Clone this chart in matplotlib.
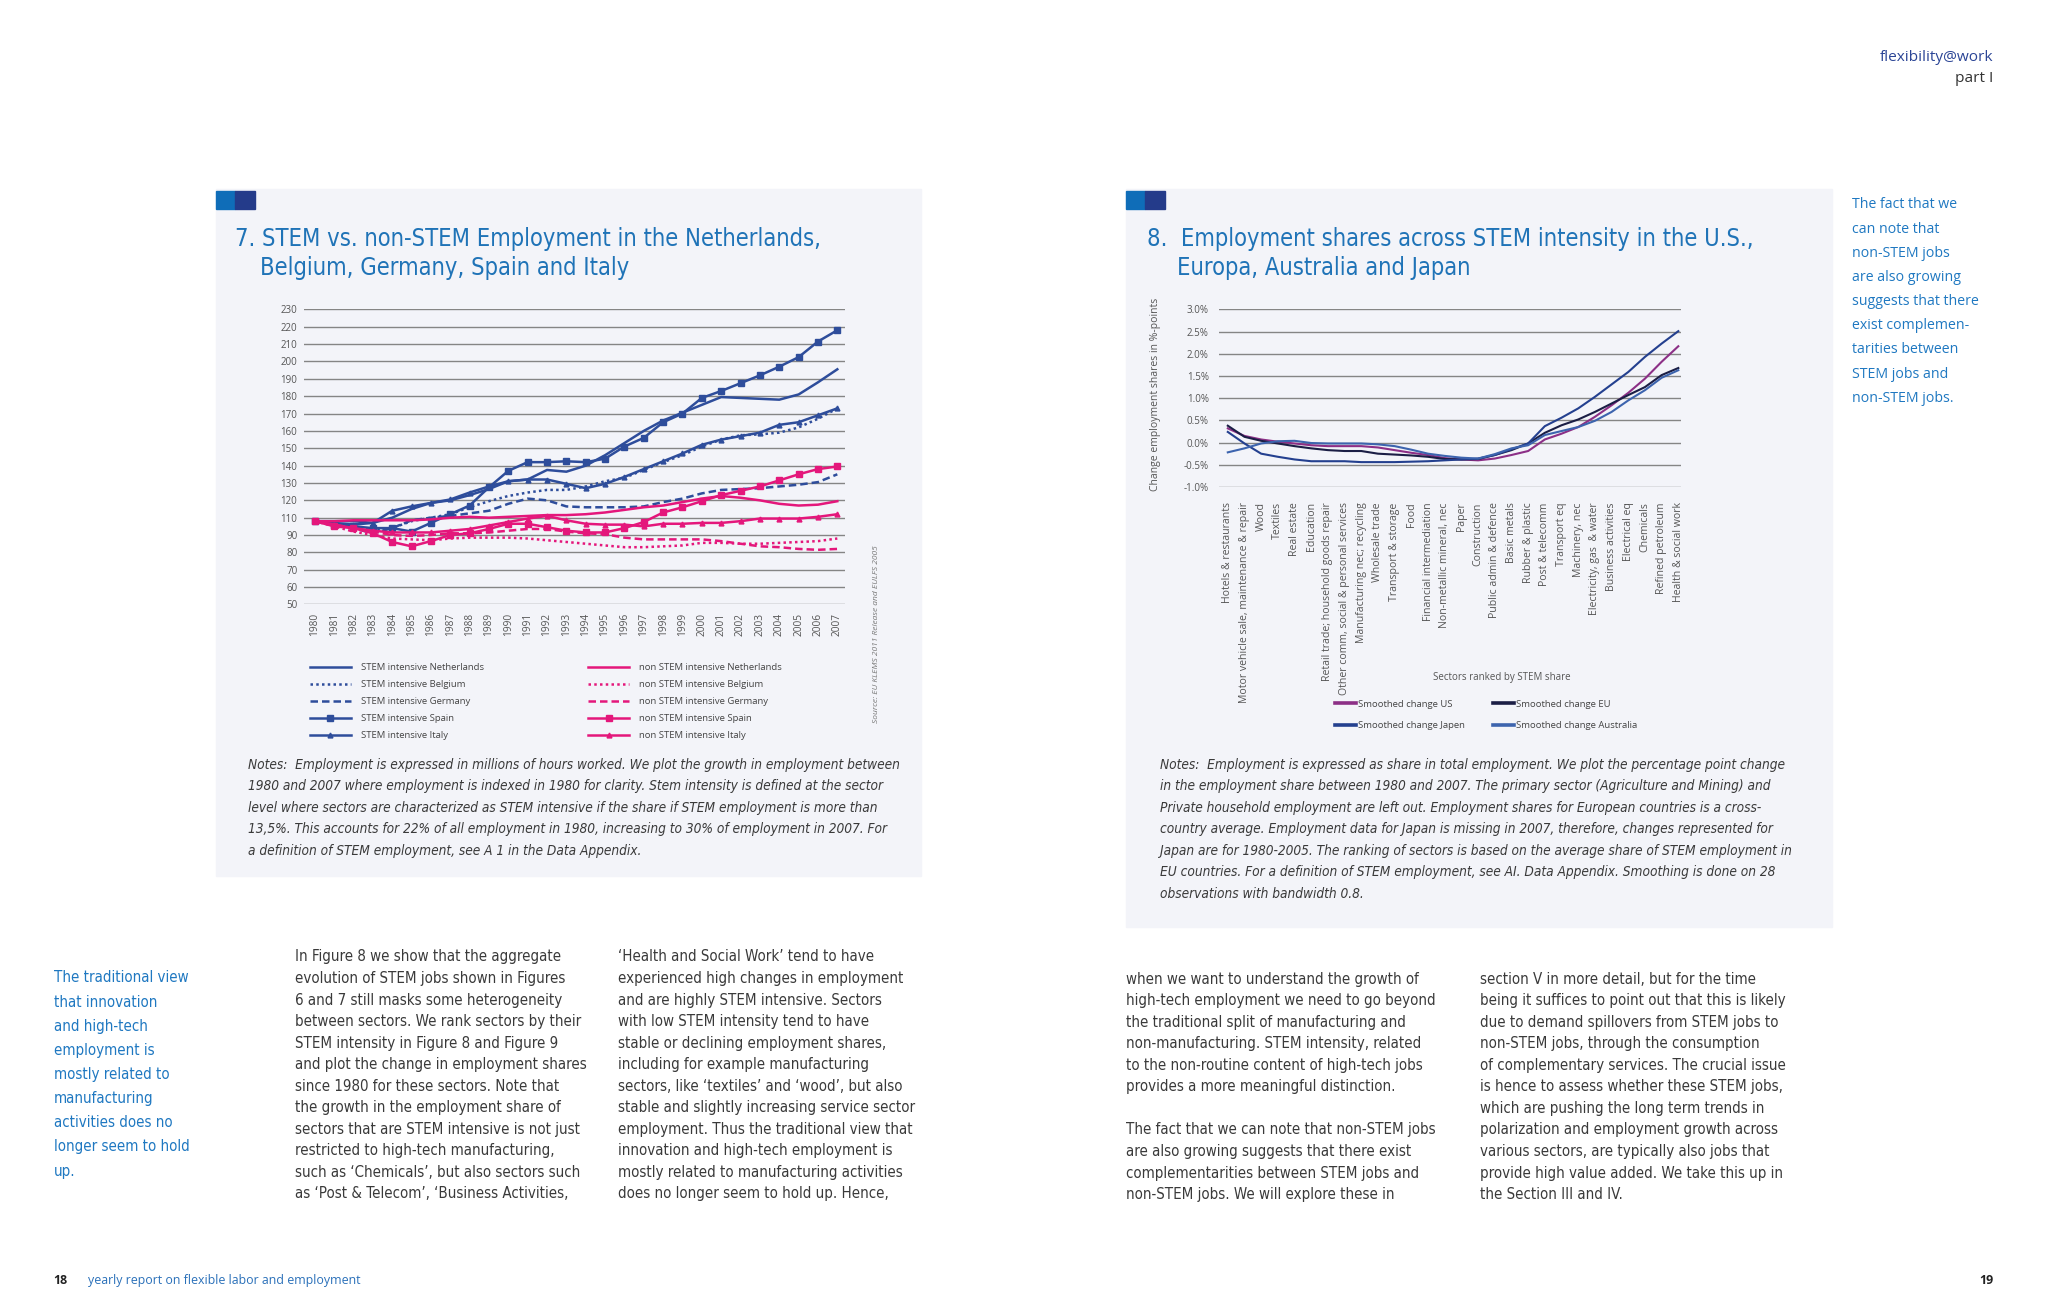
import matplotlib
matplotlib.use('Agg')
import matplotlib.pyplot as plt
from matplotlib import font_manager
from matplotlib.patches import Rectangle
import numpy as np

# layout grid: measured on the page at 1568x1008, drawn at 2048x1316
W, H = 1568, 1008
S = 2048 / W


def fx(x):
    return x / W


def fy(y):
    return 1 - y / H


fonts = font_manager.fontManager.ttflist
installed = {f.name for f in fonts}
REG = 'Open Sans' if 'Open Sans' in installed else 'DejaVu Sans'
# the page uses a condensed face for titles, notes and body text
if 'Liberation Sans Narrow' in installed:
    NARROW, NKW = 'Liberation Sans Narrow', {}
elif any(f.name == 'DejaVu Sans' and f.stretch == 'condensed' for f in fonts):
    NARROW, NKW = 'DejaVu Sans', {'fontstretch': 'condensed'}
else:
    NARROW, NKW = 'DejaVu Sans', {}

BLUE = '#2e4d9b'
PINK = '#e4177b'
TITLE = '#1f73b7'
TEXT = '#3a3a3a'
TICK = '#555555'

# ---- figure 7 data (the printed axis skips the 100 label) ----
years = list(range(1980, 2008))
ytick_pos = list(range(230, 50, -10))
ytick_labels = ['230', '220', '210', '200', '190', '180', '170', '160', '150', '140',
                '130', '120', '110', '90', '80', '70', '60', '50']

stem_nl = [108, 108, 108, 107, 110, 115, 118.5, 120, 123, 126.5, 131, 132, 137.5, 136.5,
           140, 146, 153, 160, 166, 170.5, 175, 179.5, 179, 178.5, 178, 181, 188, 195.5]
stem_be = [108, 106, 104, 103, 104, 108, 110, 112, 116, 119.5, 122.5, 124.5, 126, 126,
           128, 131, 133, 137.5, 142, 146, 151, 155, 157.5, 158, 159, 162, 167, 173]
stem_de = [108, 106, 104, 101, 104, 108.5, 110, 111, 112.5, 114, 118, 121, 120, 116.5,
           116, 116, 116, 116.5, 119, 121, 124, 126, 126.5, 127, 128, 129, 130.5, 135]
stem_es = [108, 106, 105, 104, 104, 102, 107, 112, 117, 127.5, 137, 142, 142, 142.5,
           142, 144, 151, 156, 165, 170, 179, 183, 187.5, 192, 197, 202.5, 211.5, 218]
stem_it = [108, 107, 106, 107, 114, 116.5, 118.5, 120.5, 124.5, 128, 131, 132, 132, 129.5,
           127, 129.5, 133.5, 138, 142.5, 147, 152, 155, 157, 159, 163.5, 165, 169, 173]

non_nl = [108, 108, 108.5, 108.5, 108.5, 108.5, 109, 110, 110.5, 110, 110.5, 111, 111.5, 111.5,
          112, 113, 114.5, 116, 117, 119, 121, 122.5, 121.5, 120, 118, 117, 117.5, 119.5]
non_be = [108, 105, 102, 100, 98, 97.5, 97, 98, 98.5, 98.5, 98.5, 98, 97, 96,
          95, 94, 93, 93, 93.5, 94, 95.5, 95.5, 95, 95, 95.5, 96, 96.5, 98]
non_de = [108, 106, 104, 102, 100, 99.5, 100, 101, 101, 101.5, 102.5, 103.5, 103.5, 102,
          101, 100.5, 98.5, 97.5, 97.5, 97.5, 97.5, 96.5, 95, 93.5, 93, 92, 91.5, 92]
non_es = [108, 105, 104, 101, 96, 93.5, 96.5, 100, 101, 103.5, 106.5, 106.5, 104.5, 102.5,
          101.5, 101.5, 104, 107.5, 113, 116, 119.5, 123, 125.5, 128, 131.5, 135, 138, 139.5]
non_it = [108, 106, 104, 102.5, 101.5, 101.5, 101.5, 102.5, 103.5, 105.5, 107.5, 109.5, 111, 108.5,
          106.5, 106, 106, 105, 106.5, 106.5, 107, 107, 108, 109.5, 109.5, 109.5, 110.5, 112]

stem_labels = ['STEM intensive Netherlands', 'STEM intensive Belgium', 'STEM intensive Germany',
               'STEM intensive Spain', 'STEM intensive Italy']
non_labels = ['non STEM intensive Netherlands', 'non STEM intensive Belgium',
              'non STEM intensive Germany', 'non STEM intensive Spain', 'non STEM intensive Italy']

# ---- figure 8 data ----
sectors = ['Hotels & restaurants', 'Motor vehicle sale, maintenance & repair', 'Wood', 'Textiles',
           'Real estate', 'Education', 'Retail trade; household goods repair',
           'Other comm, social & personal services', 'Manufacturing nec; recycling', 'Wholesale trade',
           'Transport & storage', 'Food', 'Financial intermediation', 'Non-metallic mineral, nec',
           'Paper', 'Construction', 'Public admin & defence', 'Basic metals', 'Rubber & plastic',
           'Post & telecomm', 'Transport eq', 'Machinery, nec', 'Electricity, gas  & water',
           'Business activities', 'Electrical eq', 'Chemicals', 'Refined petroleum',
           'Health & social work']
chg_us = [0.32, 0.15, 0.07, 0.02, -0.02, -0.06, -0.08, -0.08, -0.08, -0.11, -0.17, -0.23, -0.28, -0.35,
          -0.38, -0.40, -0.36, -0.28, -0.19, 0.07, 0.20, 0.35, 0.58, 0.84, 1.12, 1.44, 1.82, 2.17]
chg_eu = [0.38, 0.13, 0.04, -0.02, -0.08, -0.13, -0.17, -0.19, -0.19, -0.25, -0.27, -0.29, -0.32, -0.37,
          -0.38, -0.37, -0.28, -0.17, -0.02, 0.22, 0.39, 0.52, 0.69, 0.88, 1.07, 1.25, 1.52, 1.68]
chg_jp = [0.24, -0.02, -0.25, -0.32, -0.38, -0.42, -0.42, -0.42, -0.44, -0.44, -0.44, -0.43, -0.42, -0.40,
          -0.38, -0.36, -0.28, -0.15, -0.02, 0.37, 0.56, 0.77, 1.03, 1.31, 1.59, 1.93, 2.23, 2.51]
chg_au = [-0.22, -0.13, -0.02, 0.03, 0.04, -0.01, -0.02, -0.02, -0.02, -0.04, -0.08, -0.16, -0.25, -0.30,
          -0.34, -0.36, -0.26, -0.13, -0.06, 0.17, 0.26, 0.35, 0.49, 0.69, 0.95, 1.18, 1.46, 1.63]
pct_ticks = [-1.0, -0.5, 0.0, 0.5, 1.0, 1.5, 2.0, 2.5, 3.0]

# ---- page text ----
title7 = ['7. STEM vs. non-STEM Employment in the Netherlands,', 'Belgium, Germany, Spain and Italy']
title8 = ['8.  Employment shares across STEM intensity in the U.S.,', 'Europa, Australia and Japan']
notes7 = ['Notes:  Employment is expressed in millions of hours worked. We plot the growth in employment between',
          '1980 and 2007 where employment is indexed in 1980 for clarity. Stem intensity is defined at the sector',
          'level where sectors are characterized as STEM intensive if the share if STEM employment is more than',
          '13,5%. This accounts for 22% of all employment in 1980, increasing to 30% of employment in 2007. For',
          'a definition of STEM employment, see A 1 in the Data Appendix.']
notes8 = ['Notes:  Employment is expressed as share in total employment. We plot the percentage point change',
          'in the employment share between 1980 and 2007. The primary sector (Agriculture and Mining) and',
          'Private household employment are left out. Employment shares for European countries is a cross-',
          'country average. Employment data for Japan is missing in 2007, therefore, changes represented for',
          'Japan are for 1980-2005. The ranking of sectors is based on the average share of STEM employment in',
          'EU countries. For a definition of STEM employment, see AI. Data Appendix. Smoothing is done on 28',
          'observations with bandwidth 0.8.']
col1 = ['In Figure 8 we show that the aggregate', 'evolution of STEM jobs shown in Figures',
        '6 and 7 still masks some heterogeneity', 'between sectors. We rank sectors by their',
        'STEM intensity in Figure 8 and Figure 9', 'and plot the change in employment shares',
        'since 1980 for these sectors. Note that', 'the growth in the employment share of',
        'sectors that are STEM intensive is not just', 'restricted to high-tech manufacturing,',
        'such as \u2018Chemicals\u2019, but also sectors such', 'as \u2018Post & Telecom\u2019, \u2018Business Activities,']
col2 = ['\u2018Health and Social Work\u2019 tend to have', 'experienced high changes in employment',
        'and are highly STEM intensive. Sectors', 'with low STEM intensity tend to have',
        'stable or declining employment shares,', 'including for example manufacturing',
        'sectors, like \u2018textiles\u2019 and \u2018wood\u2019, but also', 'stable and slightly increasing service sector',
        'employment. Thus the traditional view that', 'innovation and high-tech employment is',
        'mostly related to manufacturing activities', 'does no longer seem to hold up. Hence,']
col3 = ['when we want to understand the growth of', 'high-tech employment we need to go beyond',
        'the traditional split of manufacturing and', 'non-manufacturing. STEM intensity, related',
        'to the non-routine content of high-tech jobs', 'provides a more meaningful distinction.', '',
        'The fact that we can note that non-STEM jobs', 'are also growing suggests that there exist',
        'complementarities between STEM jobs and', 'non-STEM jobs. We will explore these in']
col4 = ['section V in more detail, but for the time', 'being it suffices to point out that this is likely',
        'due to demand spillovers from STEM jobs to', 'non-STEM jobs, through the consumption',
        'of complementary services. The crucial issue', 'is hence to assess whether these STEM jobs,',
        'which are pushing the long term trends in', 'polarization and employment growth across',
        'various sectors, are typically also jobs that', 'provide high value added. We take this up in',
        'the Section III and IV.']
side_left = ['The traditional view', 'that innovation', 'and high-tech', 'employment is',
             'mostly related to', 'manufacturing', 'activities does no', 'longer seem to hold', 'up.']
side_right = ['The fact that we', 'can note that', 'non-STEM jobs', 'are also growing',
              'suggests that there', 'exist complemen-', 'tarities between', 'STEM jobs and', 'non-STEM jobs.']

fig = plt.figure(figsize=(20.48, 13.16), dpi=100)
fig.patch.set_facecolor('white')
renderer = fig.canvas.get_renderer()


def fit_size(lines, width, family, **kw):
    probe = [fig.text(0, 0, s, fontsize=10, family=family, **kw) for s in lines if s]
    w = max(t.get_window_extent(renderer).width for t in probe)
    for t in probe:
        t.remove()
    return 10 * width * S / w


def block(lines, x, y0, dy, size, family, color, **kw):
    for i, s in enumerate(lines):
        fig.text(fx(x), fy(y0 + i * dy), s, fontsize=size, family=family, color=color,
                 va='center', ha='left', **kw)


# panels and the two little squares
for x0, y0, x1, y1 in [(165, 145, 705, 671), (862, 145, 1403, 710)]:
    fig.add_artist(Rectangle((fx(x0), fy(y1)), fx(x1) - fx(x0), fy(y0) - fy(y1),
                             transform=fig.transFigure, color='#f3f4f9', zorder=0))
    fig.add_artist(Rectangle((fx(x0), fy(160)), fx(15) - fx(0), fy(146) - fy(160),
                             transform=fig.transFigure, color='#0f6db8', zorder=1))
    fig.add_artist(Rectangle((fx(x0 + 15), fy(160)), fx(15) - fx(0), fy(146) - fy(160),
                             transform=fig.transFigure, color='#243b8a', zorder=1))

# titles
ts = fit_size(title7[:1], 451, NARROW, **NKW)
fig.text(fx(180), fy(183), title7[0], fontsize=ts, family=NARROW, color=TITLE, va='center', **NKW)
fig.text(fx(199), fy(205), title7[1], fontsize=ts, family=NARROW, color=TITLE, va='center', **NKW)
fig.text(fx(878), fy(183), title8[0], fontsize=ts, family=NARROW, color=TITLE, va='center', **NKW)
fig.text(fx(901), fy(205), title8[1], fontsize=ts, family=NARROW, color=TITLE, va='center', **NKW)

# ---------------- figure 7 ----------------
axL = fig.add_axes([fx(233), fy(463), fx(647) - fx(233), fy(237) - fy(463)])
axL.set_facecolor('none')
styles = [dict(ls='-'), dict(ls=(0, (1, 1.3))), dict(ls=(0, (3, 1.6))),
          dict(ls='-', marker='s', ms=4.5), dict(ls='-', marker='^', ms=3.5)]
for vals, lab, st in zip([stem_nl, stem_be, stem_de, stem_es, stem_it], stem_labels, styles):
    axL.plot(years, vals, color=BLUE, lw=1.8, label=lab, **st)
for vals, lab, st in zip([non_nl, non_be, non_de, non_es, non_it], non_labels, styles):
    axL.plot(years, vals, color=PINK, lw=1.8, label=lab, **st)
axL.set_xlim(1979.46, 2007.4)
axL.set_ylim(60, 230)
axL.set_yticks(ytick_pos)
axL.set_yticklabels(ytick_labels)
axL.set_xticks(years)
axL.set_xticklabels([str(y) for y in years], rotation=90)
axL.grid(axis='y', color='#858585', lw=1.0)
axL.set_axisbelow(True)
for sp in axL.spines.values():
    sp.set_visible(False)
axL.tick_params(length=0, labelcolor=TICK)
axL.tick_params(axis='y', pad=5, labelsize=7)
axL.tick_params(axis='x', pad=6, labelsize=7.3)
for lab in axL.get_xticklabels() + axL.get_yticklabels():
    lab.set_family(REG)

h = axL.get_lines()
leg_kw = dict(loc='upper left', bbox_transform=fig.transFigure, frameon=False,
              handlelength=4.4, handletextpad=1.0, labelspacing=0.85, borderpad=0,
              borderaxespad=0, prop={'family': REG, 'size': 6.8}, labelcolor='#444444')
leg1 = axL.legend(h[:5], stem_labels, bbox_to_anchor=(fx(237), fy(508)), **leg_kw)
axL.add_artist(leg1)
axL.legend(h[5:], non_labels, bbox_to_anchor=(fx(450), fy(508)), **leg_kw)

fig.text(fx(671), fy(486), 'Source: EU KLEMS 2011 Release and EULFS 2005', rotation=90,
         fontsize=6, style='italic', color='#777777', family=REG, ha='center', va='center')

# ---------------- figure 8 ----------------
axR = fig.add_axes([fx(933), fy(373), fx(1287) - fx(933), fy(237) - fy(373)])
axR.set_facecolor('none')
idx = np.arange(len(sectors))
l_us, = axR.plot(idx, chg_us, color='#8c2f86', lw=1.5, label='Smoothed change US')
l_eu, = axR.plot(idx, chg_eu, color='#1b1e45', lw=1.5, label='Smoothed change EU')
l_jp, = axR.plot(idx, chg_jp, color='#24408f', lw=1.5, label='Smoothed change Japen')
l_au, = axR.plot(idx, chg_au, color='#3d64ae', lw=1.5, label='Smoothed change Australia')
axR.set_xlim(-0.55, 27.16)
axR.set_ylim(-1.0, 3.0)
axR.set_yticks(pct_ticks)
axR.set_yticklabels([f'{v:.1f}%' for v in pct_ticks])
axR.set_xticks(idx)
axR.set_xticklabels(sectors, rotation=90)
axR.grid(axis='y', color='#858585', lw=1.0)
axR.set_axisbelow(True)
for sp in axR.spines.values():
    sp.set_visible(False)
axR.tick_params(length=0, labelcolor=TICK)
axR.tick_params(axis='y', pad=7, labelsize=7)
axR.tick_params(axis='x', pad=11, labelsize=7.6)
for lab in axR.get_xticklabels() + axR.get_yticklabels():
    lab.set_family(REG)
axR.set_ylabel('Change employment shares in %-points', fontsize=7.5, color=TICK, family=REG)
axR.yaxis.set_label_coords(-0.124, 0.52)
axR.set_xlabel('Sectors ranked by STEM share', fontsize=7, color=TICK, family=REG)
axR.xaxis.set_label_coords(0.613, -1.044)

leg_kw8 = dict(loc='upper left', bbox_transform=fig.transFigure, frameon=False,
               handlelength=2.2, handletextpad=0.2, labelspacing=1.3, borderpad=0,
               borderaxespad=0, prop={'family': REG, 'size': 6.8}, labelcolor='#444444')
legA = axR.legend([l_us, l_jp], [l_us.get_label(), l_jp.get_label()],
                  bbox_to_anchor=(fx(1022), fy(536)), **leg_kw8)
for ln in legA.get_lines():
    ln.set_linewidth(2.6)
axR.add_artist(legA)
legB = axR.legend([l_eu, l_au], [l_eu.get_label(), l_au.get_label()],
                  bbox_to_anchor=(fx(1143), fy(536)), **leg_kw8)
for ln in legB.get_lines():
    ln.set_linewidth(2.6)

# ---------------- notes ----------------
ns = fit_size(notes7[:1], 498, NARROW, style='italic', **NKW)
block(notes7, 190, 586, 16.4, ns, NARROW, TEXT, style='italic', **NKW)
block(notes8, 888, 586, 16.4, ns, NARROW, TEXT, style='italic', **NKW)

# ---------------- body text ----------------
bs = fit_size(col1[5:6], 224, NARROW, **NKW)
block(col1, 226, 733, 16.5, bs, NARROW, TEXT, **NKW)
block(col2, 473, 733, 16.5, bs, NARROW, TEXT, **NKW)
block(col3, 862, 750, 16.5, bs, NARROW, TEXT, **NKW)
block(col4, 1133, 750, 16.5, bs, NARROW, TEXT, **NKW)

ss = fit_size(side_left[:1], 103, NARROW, **NKW)
block(side_left, 41, 749, 18.5, ss, NARROW, '#1f78c1', **NKW)
rs = fit_size(side_right[4:5], 97, REG)
block(side_right, 1418, 157, 18.5, rs, REG, '#1f78c1')

# header and footer
hs = fit_size(['flexibility@work'], 87, REG)
fig.text(fx(1526), fy(44), 'flexibility@work', fontsize=hs, family=REG, color='#2b4596', ha='right', va='center')
fig.text(fx(1526), fy(60), 'part I', fontsize=hs, family=REG, color='#333333', ha='right', va='center')
fs = fit_size(['yearly report on flexible labor and employment'], 208, REG)
fig.text(fx(41), fy(981), '18', fontsize=fs, family=REG, weight='bold', color='#222222', va='center')
fig.text(fx(67), fy(981), 'yearly report on flexible labor and employment', fontsize=fs, family=REG,
         color='#2a70b9', va='center')
fig.text(fx(1526), fy(981), '19', fontsize=fs, family=REG, weight='bold', color='#222222', ha='right', va='center')

fig.savefig('out.png', dpi=100, facecolor='white')
